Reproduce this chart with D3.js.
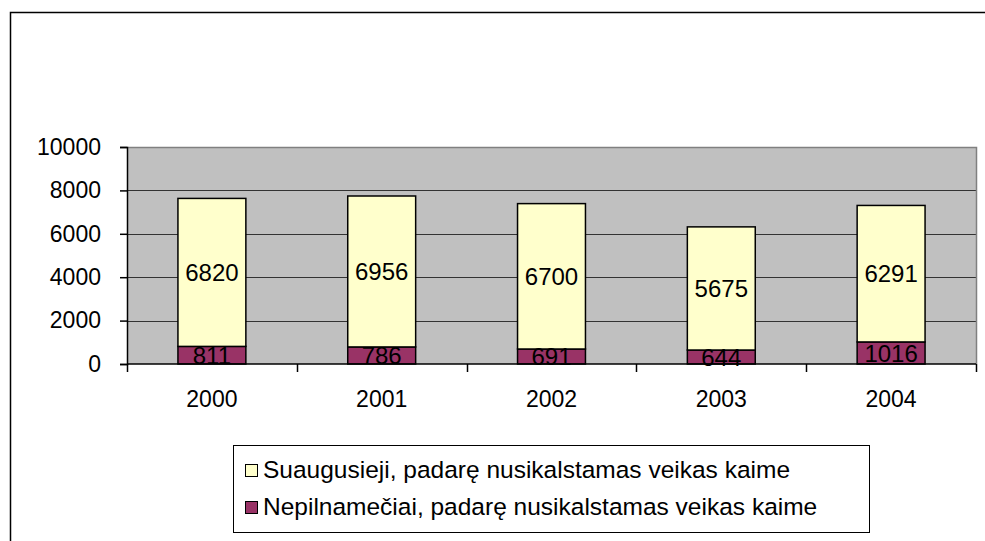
<!DOCTYPE html>
<html>
<head>
<meta charset="utf-8">
<script src="https://cdn.jsdelivr.net/npm/d3@7"></script>
<style>
  body { margin: 0; background: white; }
  text { font-family: "Liberation Sans", Arial, sans-serif; }
</style>
</head>
<body>
<div id="container"></div>
<script>
let w = 985;
let h = 541;

// data
let years = ["2000", "2001", "2002", "2003", "2004"];
let adults = [6820, 6956, 6700, 5675, 6291];
let juveniles = [811, 786, 691, 644, 1016];
let yTicks = [0, 2000, 4000, 6000, 8000, 10000];
let seriesNames = [
  "Suaugusieji, padarę nusikalstamas veikas kaime",
  "Nepilnamečiai, padarę nusikalstamas veikas kaime"
];
let seriesColors = ["#ffffcc", "#993366"];

let plotLeft = 127, plotRight = 976, plotTop = 147, plotBottom = 364;
let fontSize = 23;

let viz = d3.select("#container")
  .append("svg")
  .attr("width", w)
  .attr("height", h)
  .style("display", "block");

// outer chart frame (right and bottom edges are outside the picture)
viz.append("rect")
  .attr("x", 10.5).attr("y", 12.5)
  .attr("width", 1000).attr("height", 600)
  .attr("fill", "white")
  .attr("stroke", "#000")
  .attr("stroke-width", 1.5);

let xScale = d3.scaleBand().domain(years).range([plotLeft, plotRight]);
let barScale = d3.scaleBand().domain(years).range([plotLeft, plotRight])
  .paddingInner(0.6).paddingOuter(0.3);
let yScale = d3.scaleLinear().domain([0, 10000]).range([plotBottom, plotTop]);

// plot area
viz.append("rect")
  .attr("x", plotLeft).attr("y", plotTop)
  .attr("width", plotRight - plotLeft).attr("height", plotBottom - plotTop)
  .attr("fill", "#c0c0c0");

// gridlines
viz.append("g")
  .selectAll("line")
  .data(yTicks.filter(d => d > 0 && d < 10000))
  .enter()
  .append("line")
  .attr("x1", plotLeft).attr("x2", plotRight)
  .attr("y1", d => Math.round(yScale(d)) + 0.5)
  .attr("y2", d => Math.round(yScale(d)) + 0.5)
  .attr("stroke", "#333")
  .attr("stroke-width", 1.2);

// plot border top / right
viz.append("path")
  .attr("d", `M${plotLeft},${plotTop + 0.5}H${plotRight + 0.5}V${plotBottom}`)
  .attr("fill", "none")
  .attr("stroke", "#808080")
  .attr("stroke-width", 1.5);

// stacked bars
let stacked = years.map((y, i) => [
  { year: y, s: 1, lo: 0, hi: juveniles[i], v: juveniles[i] },
  { year: y, s: 0, lo: juveniles[i], hi: juveniles[i] + adults[i], v: adults[i] }
]).flat();

let bars = viz.append("g");
bars.selectAll("rect")
  .data(stacked)
  .enter()
  .append("rect")
  .attr("x", d => barScale(d.year))
  .attr("width", barScale.bandwidth())
  .attr("y", d => yScale(d.hi))
  .attr("height", d => yScale(d.lo) - yScale(d.hi))
  .attr("fill", d => seriesColors[d.s])
  .attr("stroke", "#000")
  .attr("stroke-width", 1.5);

bars.selectAll("text")
  .data(stacked)
  .enter()
  .append("text")
  .attr("x", d => barScale(d.year) + barScale.bandwidth() / 2)
  .attr("y", d => (yScale(d.lo) + yScale(d.hi)) / 2)
  .attr("dy", "0.36em")
  .attr("text-anchor", "middle")
  .attr("font-size", 24)
  .attr("fill", "#000")
  .text(d => d.v);

// y axis
let yAxis = d3.axisLeft(yScale).tickValues(yTicks).tickSize(7).tickPadding(19)
  .tickFormat(d3.format("d"));
let yAxisGroup = viz.append("g")
  .attr("transform", `translate(${plotLeft},0)`)
  .call(yAxis);
yAxisGroup.select(".domain").attr("stroke", "#000").attr("stroke-width", 1.5);
yAxisGroup.selectAll(".tick line").attr("stroke", "#000").attr("stroke-width", 1.5);
yAxisGroup.selectAll(".tick text")
  .attr("font-size", fontSize)
  .attr("font-family", "Liberation Sans, Arial, sans-serif")
  .attr("fill", "#000");

// x axis: ticks at category boundaries
let xAxisGroup = viz.append("g")
  .attr("transform", `translate(0,${plotBottom})`);
xAxisGroup.append("line")
  .attr("x1", plotLeft).attr("x2", plotRight)
  .attr("stroke", "#000").attr("stroke-width", 1.5);
let boundaries = years.map(d => xScale(d)).concat([plotRight]);
xAxisGroup.selectAll(".xtick")
  .data(boundaries)
  .enter()
  .append("line")
  .attr("class", "xtick")
  .attr("x1", d => Math.round(d) + 0.5).attr("x2", d => Math.round(d) + 0.5)
  .attr("y1", 0).attr("y2", 8)
  .attr("stroke", "#000").attr("stroke-width", 1.5);
xAxisGroup.selectAll(".xlabel")
  .data(years)
  .enter()
  .append("text")
  .attr("class", "xlabel")
  .attr("x", d => xScale(d) + xScale.bandwidth() / 2)
  .attr("y", 43)
  .attr("text-anchor", "middle")
  .attr("font-size", fontSize)
  .attr("fill", "#000")
  .text(d => d);

// legend
let legend = viz.append("g");
legend.append("rect")
  .attr("x", 233.5).attr("y", 445.5)
  .attr("width", 636).attr("height", 87)
  .attr("fill", "white")
  .attr("stroke", "#000")
  .attr("stroke-width", 1);

let legendRows = legend.selectAll(".row")
  .data(seriesNames)
  .enter()
  .append("g")
  .attr("class", "row")
  .attr("transform", (d, i) => `translate(245,${469 + i * 37})`);

legendRows.append("rect")
  .attr("x", 0.5).attr("y", -4.5)
  .attr("width", 12).attr("height", 12)
  .attr("fill", (d, i) => seriesColors[i])
  .attr("stroke", "#000")
  .attr("stroke-width", 1);

legendRows.append("text")
  .attr("x", 18)
  .attr("y", 0)
  .attr("dy", "0.36em")
  .attr("font-size", 24.5)
  .attr("fill", "#000")
  .text(d => d);
</script>
</body>
</html>
